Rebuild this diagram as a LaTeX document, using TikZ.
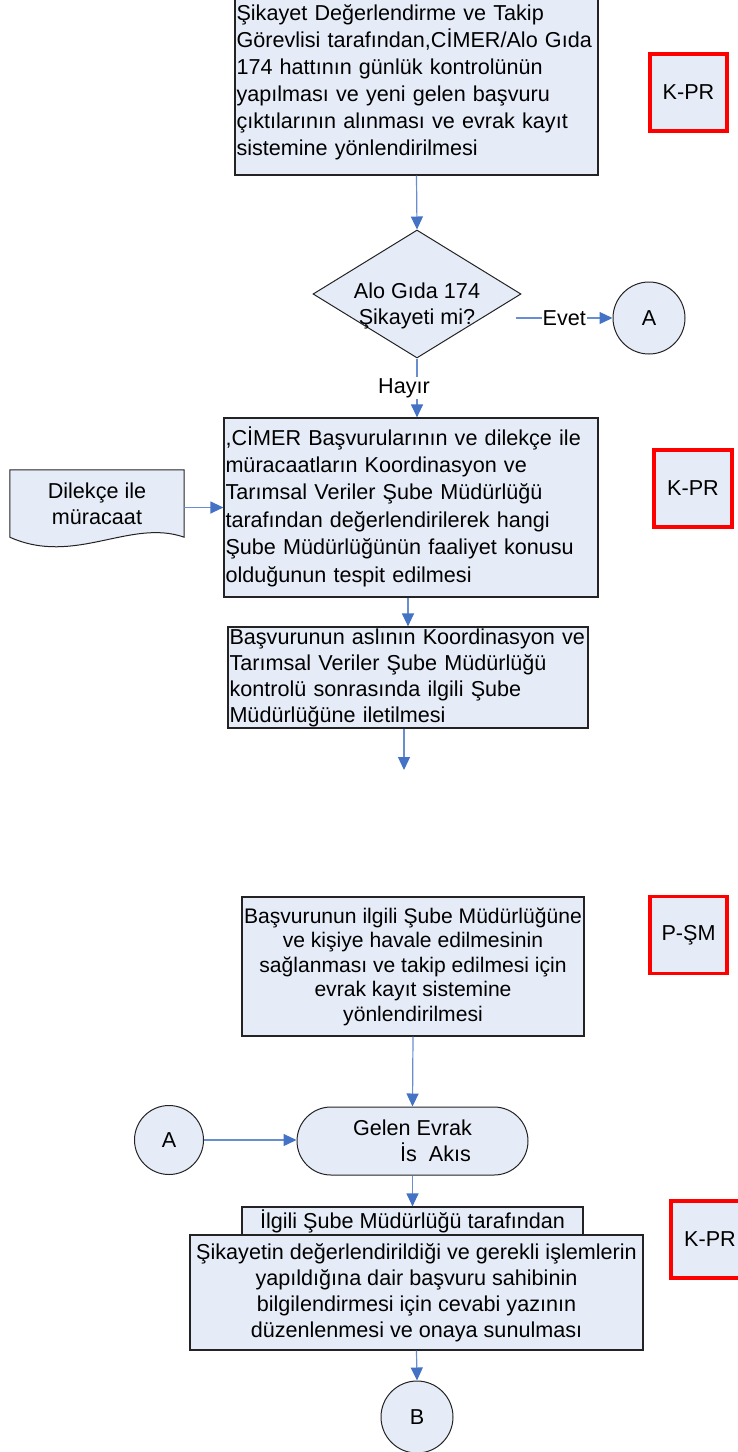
\documentclass[tikz,border=0pt]{standalone}
\usepackage{fontspec}
\setmainfont{Liberation Sans}
\usetikzlibrary{arrows.meta,shapes.geometric,backgrounds}
\definecolor{boxfill}{RGB}{230,236,247}
\definecolor{flowblue}{RGB}{68,114,196}
\definecolor{linegray}{RGB}{35,35,35}

\begin{document}
\begin{tikzpicture}[x=1pt,y=-1pt,
  txt/.style={font=\fontsize{21.6}{26}\selectfont},
  proc/.style={txt,rectangle,draw=linegray,line width=1.2pt,fill=boxfill,inner xsep=1.5pt,inner ysep=0pt},
  kpr/.style={txt,rectangle,draw=red,line width=3.5pt,fill=boxfill,inner sep=0pt,minimum width=77pt,minimum height=77pt},
  conn/.style={txt,circle,draw=linegray,line width=1pt,fill=boxfill,inner sep=0pt},
  flow/.style={draw=flowblue!80,line width=1.2pt,-{Triangle[length=13pt,width=12pt,fill=flowblue,color=flowblue]}},
  lbl/.style={txt,fill=white,inner sep=1pt}]

\useasboundingbox (0,0) rectangle (738,1452);

% first page
\node[proc,minimum width=363pt,minimum height=185pt,text width=360pt,align=left,font=\fontsize{21.6}{27}\selectfont] (box1) at (416.5,82.5) {Şikayet Değerlendirme ve Takip\\Görevlisi tarafından,CİMER/Alo Gıda\\174 hattının günlük kontrolünün\\yapılması ve yeni gelen başvuru\\çıktılarının alınması ve evrak kayıt\\sistemine yönlendirilmesi};
\node[kpr] (kpr1) at (688.5,92.5) {K-PR};

\node[diamond,draw=linegray,line width=1pt,fill=boxfill,inner sep=0pt,minimum width=208pt,minimum height=128pt,
  label={[txt,align=center,yshift=-11.5pt]center:Alo Gıda 174\\Şikayeti mi?}] (dec) at (417,294) {};
\coordinate (evetstart) at (516,318);
\node[conn,minimum size=72pt] (circA) at (649,318) {A};

\node[proc,minimum width=374pt,minimum height=179pt,text width=371pt,align=left,font=\fontsize{21.6}{27.4}\selectfont] (box2) at (411,507.5) {,CİMER Başvurularının ve dilekçe ile\\müracaatların Koordinasyon ve\\Tarımsal Veriler Şube Müdürlüğü\\tarafından değerlendirilerek hangi\\Şube Müdürlüğünün faaliyet konusu\\olduğunun tespit edilmesi\\[-21pt]\mbox{}};
\node[kpr,minimum width=78pt] (kpr2) at (693,488.5) {K-PR};

\node[txt,minimum width=174pt,minimum height=67pt,inner sep=0pt,align=center] (dilekce) at (97,503.5) {Dilekçe ile\\müracaat};
\begin{scope}[on background layer]
\draw[line width=1pt,draw=linegray,fill=boxfill] (dilekce.south west) -- (dilekce.north west) -- (dilekce.north east) -- (dilekce.south east)
  .. controls +(-54,-19) and +(65,29) .. (dilekce.south west) -- cycle;
\end{scope}

\node[proc,minimum width=360pt,minimum height=101pt,text width=357pt,align=left] (box3) at (408,677.5) {Başvurunun aslının Koordinasyon ve\\Tarımsal Veriler Şube Müdürlüğü\\kontrolü sonrasında ilgili Şube\\Müdürlüğüne iletilmesi};
\coordinate (b3end) at (404,770);

% second page
\node[proc,minimum width=342pt,minimum height=139pt,inner xsep=0pt,align=center,font=\fontsize{21.1}{24.5}\selectfont] (box4) at (413,966.5) {Başvurunun ilgili Şube Müdürlüğüne\\ve kişiye havale edilmesinin\\sağlanması ve takip edilmesi için\\evrak kayıt sistemine\\yönlendirilmesi};
\node[kpr] (psm) at (688.5,935) {P-ŞM};

\node[conn,minimum size=69pt] (circA2) at (169,1140) {A};
\node[txt,rectangle,rounded corners=34pt,draw=linegray,line width=1pt,fill=boxfill,minimum width=231pt,minimum height=68pt,inner sep=0pt,align=center] (term) at (412.5,1141) {Gelen Evrak\\\hspace*{46pt}İs~~Akıs};

\node[proc,minimum width=341pt,minimum height=28pt] (hdr) at (412.5,1221) {İlgili Şube Müdürlüğü tarafından};
\node[proc,minimum width=453pt,minimum height=115pt,align=center] (box5) at (416.5,1292.5) {Şikayetin değerlendirildiği ve gerekli işlemlerin\\yapıldığına dair başvuru sahibinin\\bilgilendirmesi için cevabi yazının\\düzenlenmesi ve onaya sunulması};
\node[kpr,minimum width=78pt] (kpr3) at (710,1239.5) {K-PR};

\node[conn,minimum size=72pt] (circB) at (417,1417) {B};

% connectors
\draw[flow] (box1.south) -- (dec.north);
\draw[flow] (evetstart) -- node[lbl]{Evet} (circA.west);
\draw[flow] (dec.south) -- node[lbl,xshift=-13pt]{Hayır} (dec.south |- box2.north);
\draw[flow] (box2.west -| dilekce.east) -- (box2.west);
\draw[flow] (box3.north |- box2.south) -- (box3.north);
\draw[flow] (b3end |- box3.south) -- (b3end);
\draw[flow] (box4.south) -- (term.north);
\draw[flow] (circA2.east) -- (circA2.east -| term.west);
\draw[flow] (term.south) -- (hdr.north);
\draw[flow] (box5.south) -- (circB.north);
\end{tikzpicture}
\end{document}
